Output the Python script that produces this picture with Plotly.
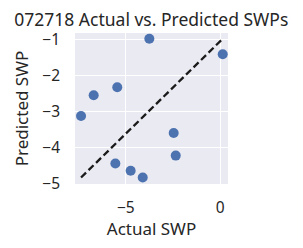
import plotly.graph_objects as go

actual = [-3.75, 0.14, -5.45, -6.70, -7.37, -2.46, -2.35, -5.55, -4.74, -4.10]
predicted = [-0.98, -1.41, -2.33, -2.55, -3.13, -3.60, -4.23, -4.45, -4.65, -4.84]

title = "072718 Actual vs. Predicted SWPs"
xlabel = "Actual SWP"
ylabel = "Predicted SWP"

fig = go.Figure()
fig.add_trace(go.Scatter(
    x=[min(actual), max(actual)], y=[min(predicted), max(predicted)],
    mode="lines", line=dict(color="#1a1a1a", width=2.3, dash="7px,3.5px"),
    showlegend=False, hoverinfo="skip"))
fig.add_trace(go.Scatter(
    x=actual, y=predicted, mode="markers",
    marker=dict(color="#4C72B0", size=10, line=dict(width=0)),
    showlegend=False))

font = "Noto Sans"
# page body has an 8px margin, so the figure is 8px smaller and offset
W, H = 295, 240
fig.update_layout(
    width=W, height=H,
    margin=dict(l=67, r=75, t=25, b=64, autoexpand=False),
    paper_bgcolor="white", plot_bgcolor="#EAEAF2",
    font=dict(family=font, color="#262626"),
    title=dict(text=title, x=143.3 / W, xanchor="center", y=1 - 11.5 / H,
               yanchor="middle", yref="container", font=dict(size=17.5, family=font, color="#262626")),
)
fig.update_xaxes(range=[-7.69, 0.42], dtick=5, tick0=0, showgrid=True, gridcolor="white",
                 gridwidth=1.3, zeroline=False, showline=False, ticks="", automargin=False,
                 ticklabelstandoff=12,
                 tickfont=dict(size=15.5), title=dict(text=xlabel, font=dict(size=17), standoff=2))
fig.update_yaxes(range=[-5.02, -0.82], dtick=1, tick0=0, showgrid=True, gridcolor="white",
                 gridwidth=1.3, zeroline=False, showline=False, ticks="", automargin=False,
                 ticklabelstandoff=14,
                 tickfont=dict(size=15.5), title=dict(text=ylabel, font=dict(size=17), standoff=9))
fig.write_html("out.html")
